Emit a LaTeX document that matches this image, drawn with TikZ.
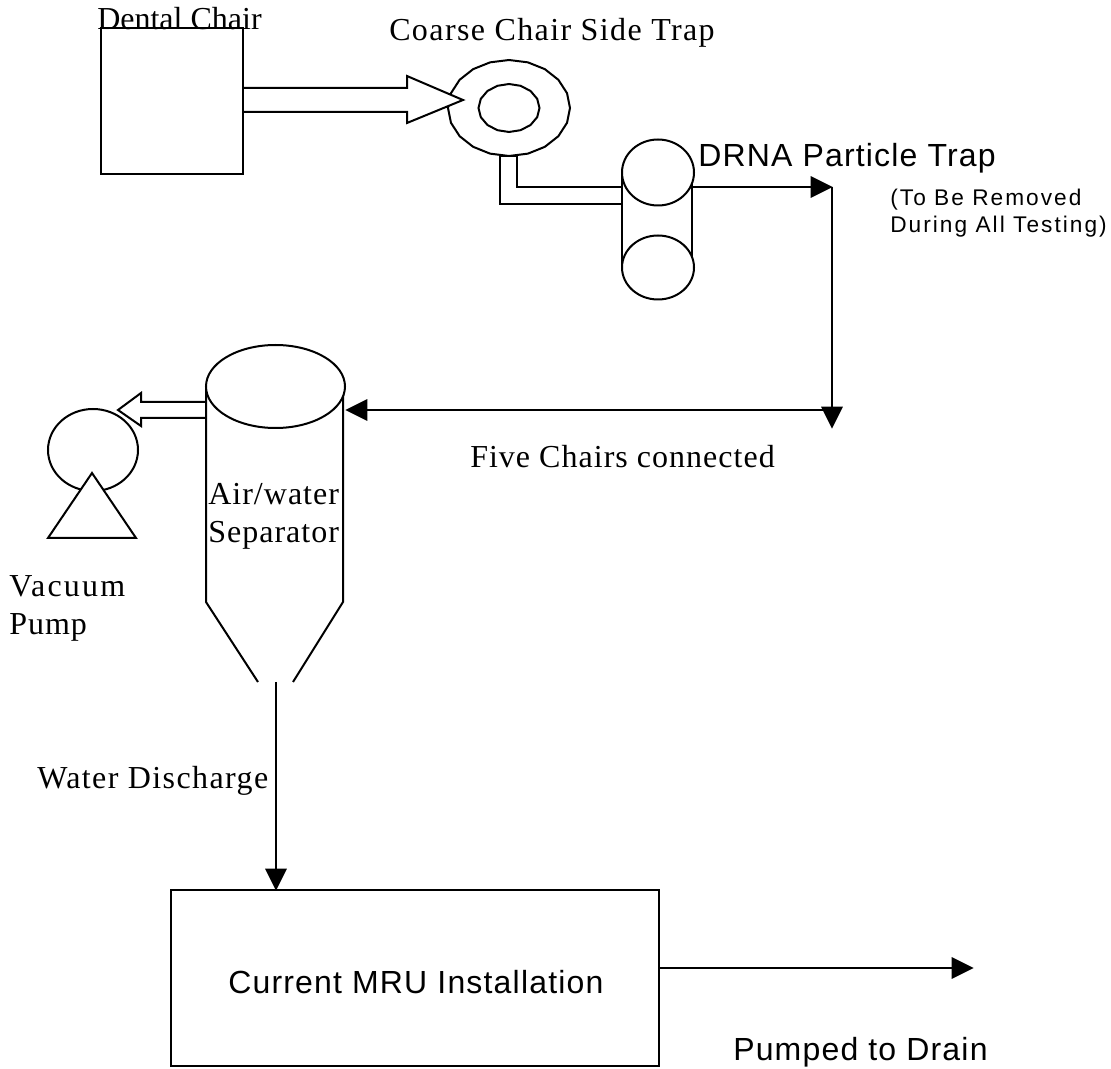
\documentclass[tikz,border=0pt]{standalone}
\usepackage{fontspec}
\newfontfamily\romanlabel{Liberation Serif}
\newfontfamily\sanslabel[LetterSpace=3.7]{Liberation Sans}
\newfontfamily\smalllabel[LetterSpace=9]{Liberation Sans}
\usetikzlibrary{arrows.meta,shapes.geometric}

\begin{document}
\begin{tikzpicture}[
  x=0.75pt, y=-0.75pt,
  vessel/.style={draw, line width=1.5pt, fill=white, inner sep=0pt, outer sep=0pt},
  flow/.style={draw, line width=1.5pt, -{Triangle[length=16.5pt,width=16pt]}, shorten >=-0.5pt},
  every node/.style={anchor=base west, inner sep=0pt},
  seriflabel/.style={font=\fontsize{24}{24}\romanlabel\addfontfeatures{LetterSpace=#1}},
  seriflabel/.default=3.2,
  sanstext/.style={font=\fontsize{24}{24}\sanslabel},
  note/.style={font=\fontsize{17}{17}\smalllabel}
]
\useasboundingbox (0,0) rectangle (1111,1069);

\draw[vessel] plot[domain=0:360, samples=21] ({509+61*cos(\x)},{108+48*sin(\x)}) -- cycle;
\draw[vessel] plot[domain=0:360, samples=17] ({509+30.5*cos(\x)},{108+24*sin(\x)}) -- cycle;
\draw[vessel] (243,88) -- (407,88) -- (407,76) -- (463,100) -- (407,123) -- (407,112) -- (243,112);
\node[draw, line width=1.5pt, outer sep=0pt, anchor=center, minimum width=106.5pt, minimum height=109.5pt] (chair) at (172,101) {};

\draw[line width=1.5pt, fill=white] (622,172) rectangle (692,267);
\coordinate (trapin) at (622,187);
\coordinate (trapout) at (692,187);
\node[vessel, anchor=center, ellipse, minimum width=54pt, minimum height=49.5pt] (traptop) at (658,172.5) {};
\node[vessel, anchor=center, ellipse, minimum width=54pt, minimum height=48pt] (trapbottom) at (658,267.5) {};
\draw[line width=1.5pt] (trapin |- 0,204) -- (500,204) -- (500,156) -- (517,156) -- (517,187) -- (trapin);

\coordinate (bend) at (832,187);
\coordinate (elbow) at (832,428);
\coordinate (sepin) at (346,410);
\draw[flow] (trapout) -- (bend);
\draw[flow] (bend) -- (elbow);
\draw[flow] (elbow |- sepin) -- (sepin);

\node[vessel, anchor=center, ellipse, minimum width=67.5pt, minimum height=61.5pt] (pump) at (93,450) {};
\draw[vessel] (92,473) -- (136,538) -- (48,538) -- cycle;
\draw[vessel] (206,402) -- (141,402) -- (141,393) -- (118,410) -- (141,426) -- (141,418) -- (206,418);

\draw[line width=1.5pt] (206,386) -- (206,602) -- (258,682);
\draw[line width=1.5pt] (343,386) -- (343,602) -- (293,682);
\node[vessel, anchor=center, ellipse, minimum width=104.25pt, minimum height=62.25pt] (separator) at (275.5,386.5) {};

\node[vessel, anchor=center, minimum width=366pt, minimum height=132pt] (mru) at (415,978) {};
\coordinate (outlet) at (276,682);
\coordinate (drain) at (973,968);
\draw[flow] (outlet) -- (outlet |- mru.north);
\draw[flow] (mru.east |- drain) -- (drain);

\node[seriflabel=0] (chairlabel) at (97,30) {Dental Chair};
\node[seriflabel=4.4] (traplabel) at (389,41) {Coarse Chair Side Trap};
\node[sanstext] (drnalabel) at (698,167) {DRNA Particle Trap};
\node[note] (removelabel) at (890,206) {(To Be Removed};
\node[note] (testlabel) at (890,233) {During All Testing)};
\node[seriflabel] (fivelabel) at (470,468) {Five Chairs connected};
\node[seriflabel] (airlabel) at (208,505) {Air/water};
\node[seriflabel] (seplabel) at (208,543) {Separator};
\node[seriflabel=7] (vaclabel) at (9,597) {Vacuum};
\node[seriflabel] (pumplabel) at (9,635) {Pump};
\node[seriflabel=4.4] (waterlabel) at (37,788) {Water Discharge};
\node[sanstext] (mrulabel) at (228,993) {Current MRU Installation};
\node[sanstext] (drainlabel) at (733,1060) {Pumped to Drain};
\end{tikzpicture}
\end{document}
